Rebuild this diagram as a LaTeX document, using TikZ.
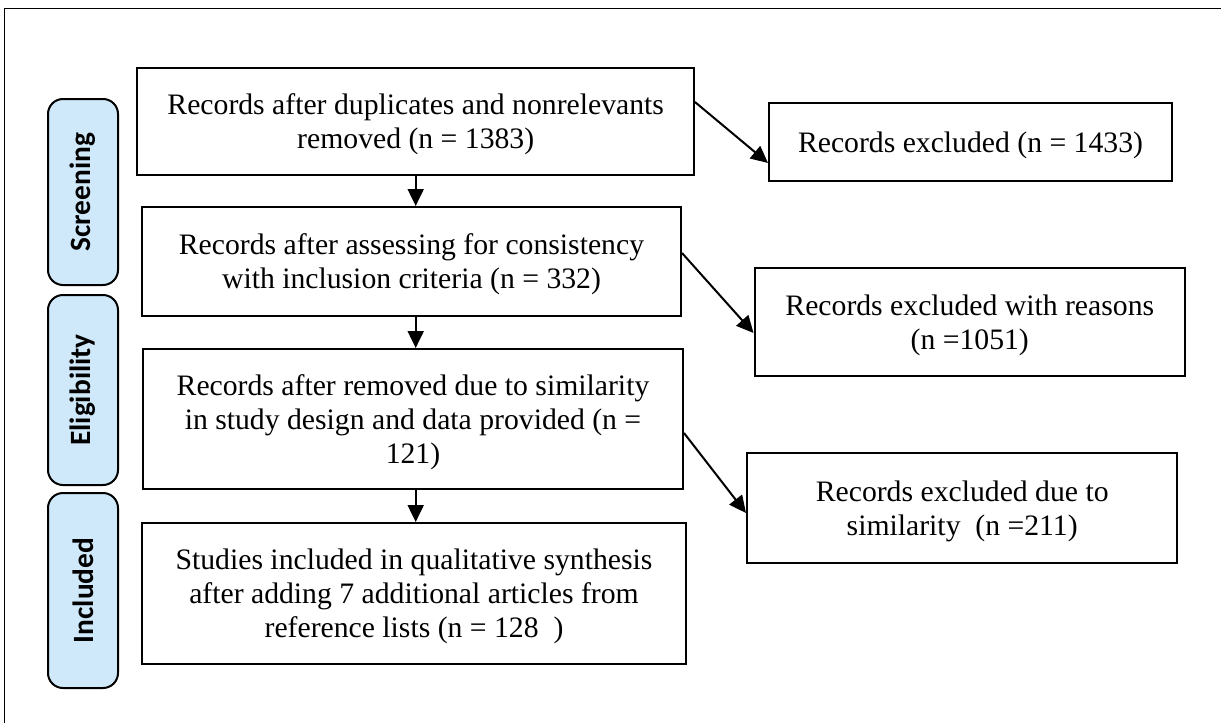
\documentclass[tikz,border=0pt]{standalone}
\usepackage{fontspec}
\setmainfont{Liberation Serif}
\newfontfamily\tabfont{Carlito}
\usepackage{tikz}
\usetikzlibrary{arrows.meta}

\definecolor{tabblue}{RGB}{207,233,250}

\tikzset{
  stage/.style={draw, line width=1pt, align=center, inner sep=2pt, text depth=-3.5pt,
    font=\fontsize{14.85}{17}\selectfont},
  tab/.style={draw, line width=1pt, fill=tabblue, rounded corners=7.5pt,
    rotate=90, minimum height=35pt, inner sep=0pt,
    font=\tabfont\bfseries\fontsize{14.7}{17}\selectfont},
  flow/.style={-{Triangle[length=8.5pt,width=8pt]}, line width=1pt}
}

\begin{document}
\begin{tikzpicture}[x=0.5pt,y=-0.5pt]
          \useasboundingbox (0,0) rectangle (1221,723);
          \draw[line width=0.8pt] (4.5,723) -- (4.5,8.3) -- (1221,8.3);
          \node[tab, minimum width=93pt] (Scr) at (83,192) {Screening};
          \node[tab, minimum width=95pt] (Eli) at (83,390) {Eligibility};
          \node[tab, minimum width=97.5pt] (Inc) at (83,590.5) {Included};
          \node[stage, minimum width=278.25pt, minimum height=53.5pt] (S1) at (415.7,121)
            {Records after duplicates and nonrelevants\\removed (n = 1383)};
          \node[stage, minimum width=269.5pt, minimum height=54.5pt] (S2) at (411.5,261.5)
            {Records after assessing for consistency\\with inclusion criteria (n = 332)};
          \node[stage, minimum width=270pt, minimum height=70pt] (S3) at (413,419)
            {Records after removed due to similarity\\in study design and data provided (n =\\121)};
          \node[stage, minimum width=272pt, minimum height=70.5pt] (S4) at (414,593.5)
            {Studies included in qualitative synthesis\\after adding 7 additional articles from\\reference lists (n = 128\ \ )};
          \node[stage, minimum width=201.5pt, minimum height=39pt] (X1) at (970.5,142)
            {Records excluded (n = 1433)};
          \node[stage, minimum width=215.25pt, minimum height=54pt] (X2) at (969.8,322)
            {Records excluded with reasons\\(n =1051)};
          \node[stage, minimum width=215.2pt, minimum height=55pt] (X3) at (962.2,508)
            {Records excluded due to\\similarity\ \ (n =211)};
          \draw[flow] (S1.south) to (S1.south |- S2.north);
          \draw[flow] (S1.south |- S2.south) to (S1.south |- S3.north);
          \draw[flow] (S1.south |- S3.south) to (S1.south |- S4.north);
          \draw[flow] ([yshift=-17.75pt]S1.north east) to ([yshift=-10.5pt]X1.west);
          \draw[flow] ([yshift=4.25pt]S2.east) to ([yshift=-5.5pt]X2.west);
          \draw[flow] ([yshift=-7pt]S3.east) to ([yshift=-2.5pt]X3.west);
        \end{tikzpicture}
\end{document}
